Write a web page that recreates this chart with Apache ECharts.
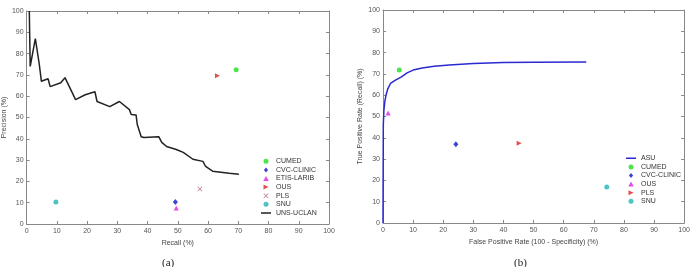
<!DOCTYPE html>
<html>
<head>
<meta charset="utf-8">
<script src="https://cdn.jsdelivr.net/npm/echarts@6/dist/echarts.min.js"></script>
<style>
  html, body { margin: 0; padding: 0; background: #fff; }
  #chart { width: 693px; height: 267px; }
</style>
</head>
<body>
<div id="chart"></div>
<script>
// (a) precision / recall
const unsRecall = [0.9, 1.2, 2.9, 4.2, 4.9, 7.1, 7.8, 11.3, 12.7, 16.2, 19.4, 22.6, 23.3, 23.6, 27.5, 30.7, 34.0, 34.6, 36.2, 36.6, 37.2, 37.9, 38.8, 43.7, 44.7, 46.3, 49.5, 51.8, 55.0, 58.3, 59.2, 61.5, 67.0, 70.2];
const unsPrecision = [100, 74, 87, 75, 67, 68.2, 64.5, 66.3, 68.7, 58.4, 60.7, 62.1, 57.5, 57, 55.1, 57.5, 53.7, 51.4, 51.2, 46.7, 45.8, 41, 40.6, 41, 38.3, 36.4, 35, 33.6, 30.4, 29.4, 27, 24.8, 23.8, 23.4];
const teamsA = ["CUMED", "CVC-CLINIC", "ETIS-LARIB", "OUS", "PLS", "SNU"];
const recallA = [69.3, 49.2, 49.5, 63.1, 57.3, 9.7];
const precisionA = [72.4, 10.3, 7.5, 69.6, 16.4, 10.3];

// (b) ROC
const asuFpr = [0, 0.1, 0.3, 0.6, 1.0, 1.6, 2.5, 4.0, 6.0, 8.0, 10.0, 13.0, 17.0, 22.0, 30.0, 40.0, 50.0, 67.5];
const asuTpr = [0, 46, 53, 57, 60, 63, 65.5, 67, 68.5, 70.5, 71.8, 72.8, 73.6, 74.2, 74.9, 75.3, 75.5, 75.6];
const teamsB = ["CUMED", "CVC-CLINIC", "OUS", "PLS", "SNU"];
const fprB = [5.4, 24.2, 1.7, 45.2, 74.3];
const tprB = [71.8, 37, 51.6, 37.5, 16.9];

// marker shapes (paths keep their aspect in the legend too)
const triRight = "path://M0,0L10,5L0,10Z";
const triUp = "path://M5,0L10,9L0,9Z";
const diamond = "path://M5,0L10,6L5,12L0,6Z";
const cross = "path://M0,1L1,0L5,4L9,0L10,1L6,5L10,9L9,10L5,6L1,10L0,9L4,5Z";
const lineIcon = "path://M0,0L0.01,0L0,0.01Z M0,3.5L20,3.5L20,6.5L0,6.5Z M0,10L0.01,10L0,9.99Z";

// marker styles per chart (same order as the team lists)
const colorsA = ["#22dd22", "#1010cc", "#dd22dd", "#e02020", "#b04a66", "#22b4b4"];
const symbolsA = ["circle", diamond, triUp, triRight, cross, "circle"];
const colorsB = ["#22dd22", "#1010cc", "#dd22dd", "#e02020", "#22b4b4"];
const symbolsB = ["circle", diamond, triUp, triRight, "circle"];

const font = "Liberation Sans";
const grey = "#555";

function mainAxis(gi, name, gap, margin) {
  return {
    gridIndex: gi, type: "value", min: 0, max: 100, interval: 10,
    name: name, nameLocation: "middle", nameGap: gap,
    nameTextStyle: { fontFamily: font, fontSize: 7, color: "#444" },
    axisLine: { lineStyle: { color: "#888" } },
    axisTick: { inside: true, length: 3, lineStyle: { color: "#888" } },
    axisLabel: { fontFamily: font, fontSize: 7, color: grey, margin: margin },
    splitLine: { show: false }
  };
}
function mirror(gi, pos) {
  return {
    gridIndex: gi, type: "value", min: 0, max: 100, interval: 10, position: pos,
    axisLine: { show: true, onZero: false, lineStyle: { color: "#888" } },
    axisTick: { inside: true, length: 3, lineStyle: { color: "#888" } },
    axisLabel: { show: false },
    splitLine: { show: false }
  };
}

const seriesA = teamsA.map((t, i) => ({
  name: t, type: "scatter", xAxisIndex: 0, yAxisIndex: 0,
  symbol: symbolsA[i], symbolSize: i === 1 ? [5, 6] : 5,
  itemStyle: { color: colorsA[i] },
  data: [[recallA[i], precisionA[i]]]
}));
seriesA.push({
  name: "UNS-UCLAN", type: "line", xAxisIndex: 0, yAxisIndex: 0,
  symbol: "none", lineStyle: { color: "#222", width: 1.5 }, itemStyle: { color: "#222" },
  data: unsRecall.map((r, i) => [r, unsPrecision[i]])
});

const seriesB = [{
  name: "ASU", type: "line", xAxisIndex: 2, yAxisIndex: 2,
  symbol: "none", lineStyle: { color: "#2a2ad0", width: 1.5 }, itemStyle: { color: "#2a2ad0" },
  data: asuFpr.map((f, i) => [f, asuTpr[i]])
}].concat(teamsB.map((t, i) => ({
  name: t + " ", type: "scatter", xAxisIndex: 2, yAxisIndex: 2,
  symbol: symbolsB[i], symbolSize: i === 1 ? [5, 6] : 5,
  itemStyle: { color: colorsB[i] },
  data: [[fprB[i], tprB[i]]]
})));

const legendBase = {
  orient: "vertical", itemWidth: 16, itemHeight: 5, itemGap: 0,
  textStyle: { fontFamily: font, fontSize: 7, color: "#333", lineHeight: 8.6, padding: [0, 0, 0, -3] },
  padding: 0, selectedMode: false
};

const chart = echarts.init(document.getElementById("chart"), null, { renderer: "canvas" });
chart.setOption({
  animation: false,
  backgroundColor: "#fff",
  title: [
    { text: "(a)", left: 157, top: 253, textStyle: { fontFamily: "Liberation Serif", fontSize: 11, fontWeight: "normal", color: "#222" } },
    { text: "(b)", left: 509, top: 253, textStyle: { fontFamily: "Liberation Serif", fontSize: 11, fontWeight: "normal", color: "#222" } }
  ],
  grid: [
    { left: 20, right: 364, top: 11, bottom: 43 },
    { left: 383, right: 8, top: 10, bottom: 44 }
  ],
  xAxis: [
    mainAxis(0, "Recall (%)", 16, 4), mirror(0, "top"),
    mainAxis(1, "False Positive Rate (100 - Specificity) (%)", 16, 4), mirror(1, "top")
  ],
  yAxis: [
    mainAxis(0, "Precision (%)", 16, 3), mirror(0, "right"),
    mainAxis(1, "True Positive Rate (Recall) (%)", 19, 3), mirror(1, "right")
  ],
  legend: [
    Object.assign({}, legendBase, {
      left: 261, top: 157,
      data: teamsA.map(t => ({ name: t })).concat([{ name: "UNS-UCLAN", icon: lineIcon }])
    }),
    Object.assign({}, legendBase, {
      left: 626, top: 154,
      data: [{ name: "ASU", icon: lineIcon }].concat(teamsB.map(t => ({ name: t + " " })))
    })
  ],
  series: seriesA.concat(seriesB)
});
</script>
</body>
</html>
